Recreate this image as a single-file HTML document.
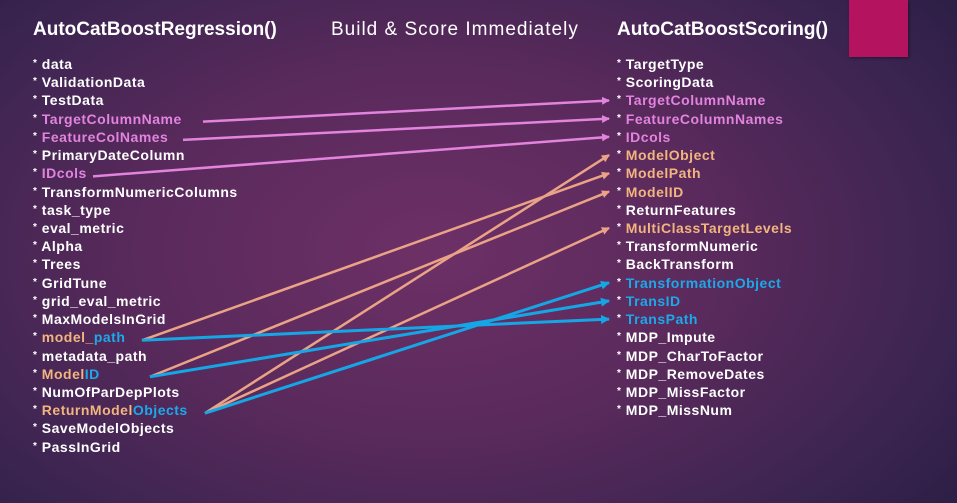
<!DOCTYPE html>
<html><head><meta charset="utf-8"><style>
html,body{margin:0;padding:0}
body{width:957px;height:503px;overflow:hidden;position:relative;font-family:"Liberation Sans",sans-serif;
background:radial-gradient(ellipse 75% 90% at 45% 50%,#6d3066 0%,#5a2a5c 40%,#3a2450 75%,#261c40 100%);}
.t{position:absolute;color:#fff;font-weight:bold;font-size:19px;white-space:nowrap}
.it{position:absolute;font-weight:bold;font-size:14px;letter-spacing:0.5px;white-space:nowrap;color:#fff;line-height:16px}
.p{color:#e283dd}.o{color:#f2b57f}.b{color:#1ba9ea}
svg{position:absolute;left:0;top:0}
</style></head><body>
<div style="position:absolute;left:849px;top:0;width:59px;height:57px;background:#b3135f;box-shadow:1px 1px 3px rgba(0,0,0,.4)"></div>
<div class="t" style="left:33px;top:19px">AutoCatBoostRegression()</div>
<div class="t" style="left:331px;top:19px;font-weight:normal;letter-spacing:1px">Build &amp; Score Immediately</div>
<div class="t" style="left:617px;top:19px">AutoCatBoostScoring()</div>
<div id="left"></div><div id="right"></div>
<svg width="957" height="503">
<defs>
<marker id="ap" markerWidth="8" markerHeight="8" refX="7" refY="4" orient="auto" markerUnits="userSpaceOnUse"><path d="M0,0L8,4L0,8z" fill="#e283dd"/></marker>
<marker id="ao" markerWidth="8" markerHeight="8" refX="7" refY="4" orient="auto" markerUnits="userSpaceOnUse"><path d="M0,0L8,4L0,8z" fill="#eba387"/></marker>
<marker id="ab" markerWidth="9" markerHeight="9" refX="8" refY="4.5" orient="auto" markerUnits="userSpaceOnUse"><path d="M0,0L9,4.5L0,9z" fill="#15a6e6"/></marker>
</defs>
<g id="lines"></g>
</svg>
<script>
const leftItems=[["data","w"],["ValidationData","w"],["TestData","w"],["TargetColumnName","p"],["FeatureColNames","p"],["PrimaryDateColumn","w"],["IDcols","p"],["TransformNumericColumns","w"],["task_type","w"],["eval_metric","w"],["Alpha","w"],["Trees","w"],["GridTune","w"],["grid_eval_metric","w"],["MaxModelsInGrid","w"],["model_path","o"],["metadata_path","w"],["ModelID","o"],["NumOfParDepPlots","w"],["ReturnModelObjects","o"],["SaveModelObjects","w"],["PassInGrid","w"]];
const rightItems=[["TargetType","w"],["ScoringData","w"],["TargetColumnName","p"],["FeatureColumnNames","p"],["IDcols","p"],["ModelObject","o"],["ModelPath","o"],["ModelID","o"],["ReturnFeatures","w"],["MultiClassTargetLevels","o"],["TransformNumeric","w"],["BackTransform","w"],["TransformationObject","b"],["TransID","b"],["TransPath","b"],["MDP_Impute","w"],["MDP_CharToFactor","w"],["MDP_RemoveDates","w"],["MDP_MissFactor","w"],["MDP_MissNum","w"]];
// [leftIndex, rightIndex, color, leftEndX]
const links=[[3,2,"p",203],[4,3,"p",183],[6,4,"p",93],
[15,6,"o",142],[17,7,"o",150],[19,5,"o",205],[19,9,"o",205],
[15,14,"b",142],[17,13,"b",150],[19,12,"b",205]];
const y0=64,dy=18.22;
function yL(i){return y0+i*dy}
const special={"model_path":'<span class="o">model_</span><span class="b">path</span>',"ModelID":'<span class="o">Model</span><span class="b">ID</span>',"ReturnModelObjects":'<span class="o">ReturnModel</span><span class="b">Objects</span>'};
function build(items,id,x,side){
 const c=document.getElementById(id);
 items.forEach((it,i)=>{
  const d=document.createElement('div');
  d.className='it';
  
  
  d.style.left=x+'px';d.style.top=(yL(i)-8)+'px';
  let inner=(side==='left'&&special[it[0]])?special[it[0]]:'<span class="'+it[1]+'">'+it[0]+'</span>';
  d.innerHTML='<span style="font-size:10px;vertical-align:3px">*</span> '+inner;
  c.appendChild(d);
 });
}
build(leftItems,'left',33,'left');
build(rightItems,'right',617,'right');
const col={p:"#e283dd",o:"#eba387",b:"#15a6e6"};
const g=document.getElementById('lines');
links.forEach(l=>{
 const ln=document.createElementNS('http://www.w3.org/2000/svg','line');
 
 
 ln.setAttribute('x1',l[3]);ln.setAttribute('y1',yL(l[0])+3);
 ln.setAttribute('x2',609);ln.setAttribute('y2',yL(l[1]));
 ln.setAttribute('stroke',col[l[2]]);ln.setAttribute('stroke-width',l[2]==='b'?3:2.5);
 ln.setAttribute('marker-end','url(#a'+l[2]+')');
 g.appendChild(ln);
});
</script>
</body></html>
